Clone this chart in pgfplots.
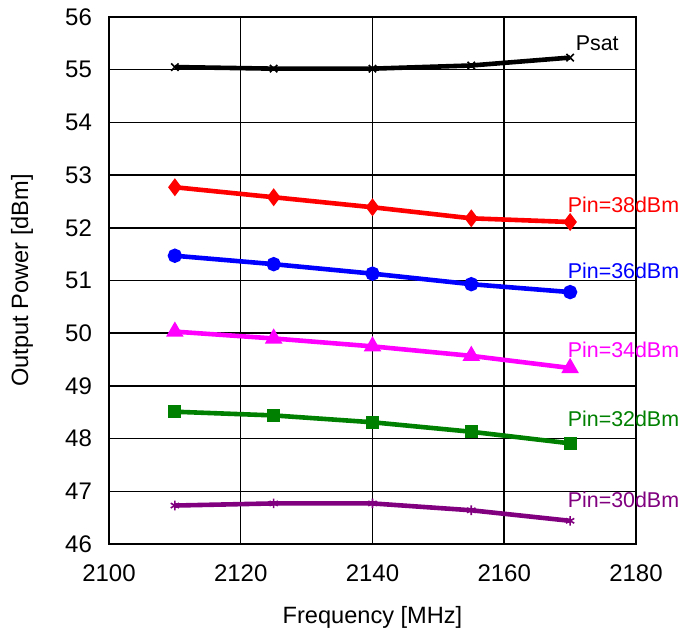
\documentclass[border=0pt]{standalone}
\usepackage{fontspec}
\setmainfont{Liberation Sans}
\usepackage{pgfplots}
\pgfplotsset{compat=1.18}

\definecolor{pinred}{HTML}{FF0000}
\definecolor{pinblue}{HTML}{0000FF}
\definecolor{pinmag}{HTML}{FF00FF}
\definecolor{pingreen}{HTML}{008000}
\definecolor{pinpurple}{HTML}{800080}

\begin{document}
\begin{tikzpicture}
\begin{axis}[
    name=main,
    width=263.5pt, height=263.5pt,
    scale only axis,
    xmin=2100, xmax=2180, ymin=46, ymax=56,
    xtick={2100,2120,...,2180},
    ytick={46,47,...,56},
    grid=major,
    grid style={black,line width=0.75pt},
    axis line style={black,line width=0.75pt},
    tick style={draw=none},
    ticklabel style={font=\fontsize{12}{14}\selectfont},
    /pgf/number format/assume math mode=true,
    /pgf/number format/1000 sep={},
    xticklabel style={yshift=-7pt},
    yticklabel style={xshift=-5pt},
    xlabel={Frequency [MHz]},
    ylabel={Output Power [dBm]},
    label style={font=\fontsize{11.8}{14}\selectfont},
    xlabel style={at={(axis description cs:0.5,-0.14)},anchor=center},
    ylabel style={at={(axis description cs:-0.165,0.5)},anchor=center},
    clip=false,
    every axis plot/.append style={line width=2.3pt},
]

% ---- Psat -----------------------------------------------------------
\addplot[black,mark=x,mark size=2.6pt,mark options={line width=0.8pt}] coordinates {
    (2110,55.05) (2125,55.02) (2140,55.02) (2155,55.08) (2170,55.23)
};
% ---- Pin = 38 dBm ---------------------------------------------------
\addplot[pinred,mark=diamond*,mark size=2.6pt] coordinates {
    (2110,52.77) (2125,52.58) (2140,52.39) (2155,52.18) (2170,52.11)
};
% ---- Pin = 36 dBm ---------------------------------------------------
\addplot[pinblue,mark=*,mark size=2.4pt] coordinates {
    (2110,51.47) (2125,51.31) (2140,51.13) (2155,50.93) (2170,50.78)
};
% ---- Pin = 34 dBm ---------------------------------------------------
\addplot[pinmag,mark=triangle*,mark size=2.8pt] coordinates {
    (2110,50.03) (2125,49.90) (2140,49.75) (2155,49.57) (2170,49.34)
};
% ---- Pin = 32 dBm ---------------------------------------------------
\addplot[pingreen,mark=square*,mark size=2.1pt] coordinates {
    (2110,48.51) (2125,48.44) (2140,48.31) (2155,48.13) (2170,47.91)
};
% ---- Pin = 30 dBm ---------------------------------------------------
\addplot[pinpurple,mark=asterisk,mark size=2.4pt,mark options={line width=0.8pt}] coordinates {
    (2110,46.73) (2125,46.77) (2140,46.77) (2155,46.64) (2170,46.44)
};

% ---- curve labels ---------------------------------------------------
\begin{scope}[every node/.style={anchor=west,inner sep=0pt,
    font=\fontsize{10.7}{12}\selectfont}]
  \node[text=black]     at (axis cs:2170.8,55.51) {Psat};
  \node[text=pinred]    at (axis cs:2169.6,52.44) {Pin=38dBm};
  \node[text=pinblue]   at (axis cs:2169.6,51.19) {Pin=36dBm};
  \node[text=pinmag]    at (axis cs:2169.6,49.68) {Pin=34dBm};
  \node[text=pingreen]  at (axis cs:2169.6,48.38) {Pin=32dBm};
  \node[text=pinpurple] at (axis cs:2169.6,46.84) {Pin=30dBm};
\end{scope}
\end{axis}

\pgfresetboundingbox
\path[use as bounding box] (main.south west) ++(-54.5pt,-45pt) rectangle ++(345.5pt,317pt);
\end{tikzpicture}
\end{document}
